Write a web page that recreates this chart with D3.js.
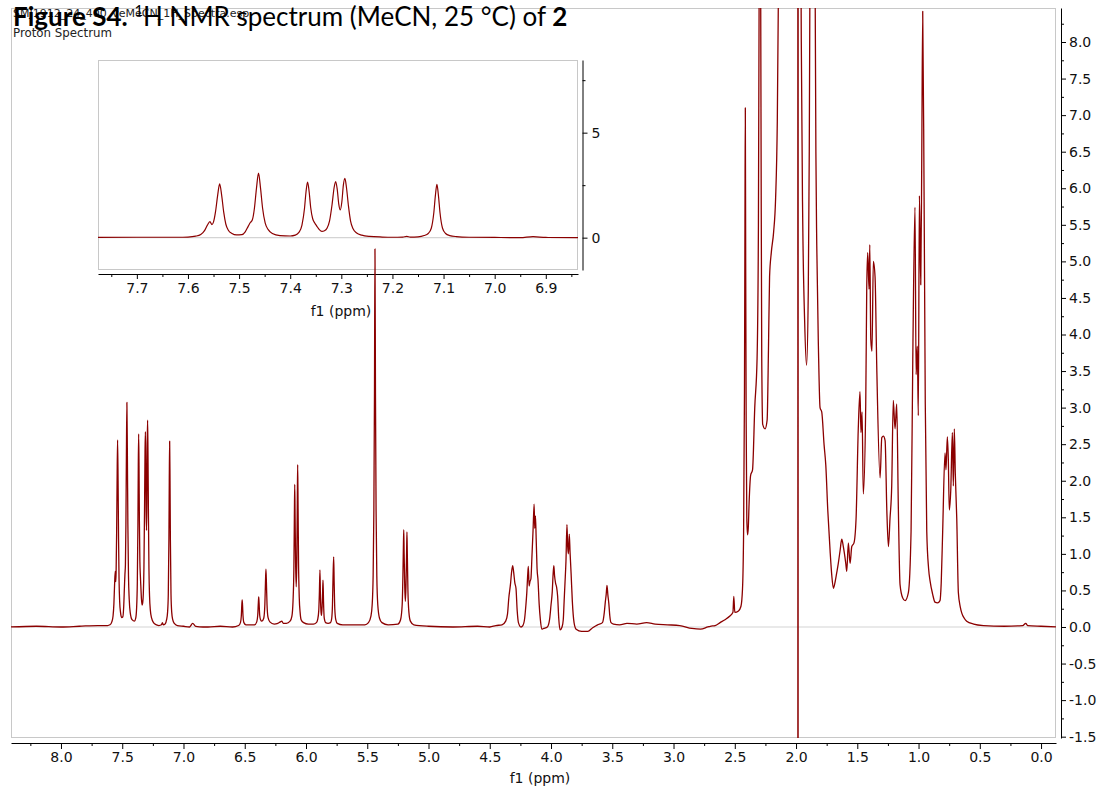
<!DOCTYPE html>
<html><head><meta charset="utf-8">
<script src="https://cdn.jsdelivr.net/npm/d3@7"></script>
<style>body{margin:0;background:#fff} svg{display:block}</style>
</head><body><svg id="c" width="1104" height="790"></svg>
<script>
// ---- DATA: [chemical shift (ppm), intensity] ----
const spectrumAromatic = [
[8.42,0],[8.2,0.01],[8.0,0],[7.85,0.01],[7.70,0.02],[7.62,0.02],[7.60,0.03],[7.585,0.07],[7.575,0.15],[7.568,0.32],[7.562,0.6],[7.557,0.76],[7.553,0.62],[7.550,0.75],[7.546,1.25],[7.542,2.0],[7.538,2.56],[7.534,2.0],[7.530,1.2],[7.526,0.65],[7.521,0.35],[7.514,0.2],[7.505,0.13],[7.495,0.14],[7.488,0.28],[7.482,0.55],[7.478,0.72],[7.474,0.85],[7.470,1.4],[7.466,2.35],[7.462,3.07],[7.458,2.35],[7.454,1.4],[7.449,0.7],[7.443,0.38],[7.435,0.2],[7.42,0.1],[7.40,0.08],[7.39,0.12],[7.383,0.25],[7.377,0.6],[7.372,1.4],[7.369,2.2],[7.366,2.64],[7.363,2.2],[7.360,1.45],[7.356,0.9],[7.352,0.7],[7.348,0.55],[7.343,0.38],[7.338,0.3],[7.333,0.33],[7.328,0.45],[7.323,0.8],[7.318,1.6],[7.314,2.4],[7.311,2.67],[7.308,2.3],[7.305,1.6],[7.302,1.32],[7.299,1.7],[7.296,2.5],[7.293,2.83],[7.290,2.4],[7.286,1.5],[7.282,0.8],[7.277,0.42],[7.270,0.22],[7.26,0.12],[7.245,0.06],[7.22,0.03],[7.20,0.02],[7.18,0.03],[7.172,0.06],[7.165,0.03],[7.15,0.04],[7.138,0.1],[7.13,0.2],[7.124,0.45],[7.119,1.2],[7.116,2.0],[7.113,2.54],[7.110,2.0],[7.107,1.2],[7.102,0.45],[7.096,0.2],[7.088,0.1],[7.075,0.05],[7.05,0.02],[7.0,0.01],[6.95,0.0],[6.925,0.05],[6.90,0.01],[6.84,0.0]
];
const spectrumOlefinic = [
[6.80,0.0],[6.70,0.01],[6.60,0.0],[6.55,0.02],[6.535,0.06],[6.528,0.15],[6.524,0.3],[6.521,0.37],[6.518,0.3],[6.514,0.15],[6.507,0.06],[6.49,0.03],[6.42,0.03],[6.402,0.07],[6.394,0.16],[6.389,0.33],[6.386,0.41],[6.383,0.33],[6.378,0.16],[6.371,0.1],[6.36,0.08],[6.345,0.12],[6.336,0.3],[6.331,0.6],[6.327,0.79],[6.323,0.6],[6.318,0.3],[6.31,0.13],[6.295,0.07],[6.26,0.04],[6.23,0.05],[6.21,0.07],[6.198,0.08],[6.185,0.05],[6.16,0.05],[6.13,0.08],[6.115,0.15],[6.106,0.35],[6.099,0.8],[6.095,1.5],[6.092,1.95],[6.089,1.5],[6.085,0.9],[6.080,0.55],[6.075,0.9],[6.071,1.7],[6.068,2.22],[6.065,1.7],[6.061,0.9],[6.055,0.4],[6.048,0.2],[6.04,0.1],[6.02,0.06],[5.98,0.04],[5.94,0.04],[5.915,0.06],[5.905,0.1],[5.896,0.22],[5.891,0.45],[5.886,0.78],[5.882,0.4],[5.877,0.2],[5.873,0.16],[5.868,0.3],[5.864,0.5],[5.861,0.64],[5.857,0.35],[5.851,0.12],[5.84,0.06],[5.82,0.05],[5.80,0.06],[5.79,0.12],[5.784,0.3],[5.779,0.7],[5.774,0.96],[5.770,0.6],[5.765,0.25],[5.757,0.1],[5.745,0.05],[5.70,0.03],[5.60,0.03],[5.52,0.03],[5.49,0.06],[5.47,0.15],[5.46,0.3],[5.452,0.7],[5.446,1.6],[5.441,3.2],[5.437,5.17],[5.433,3.2],[5.428,1.6],[5.422,0.7],[5.414,0.3],[5.40,0.12],[5.38,0.06],[5.33,0.03],[5.25,0.04],[5.228,0.1],[5.215,0.3],[5.209,0.7],[5.205,1.1],[5.202,1.33],[5.199,1.0],[5.194,0.55],[5.189,0.35],[5.184,0.55],[5.179,1.0],[5.176,1.30],[5.173,1.0],[5.168,0.5],[5.160,0.2],[5.148,0.08],[5.12,0.03],[5.0,0.01],[4.80,0.0],[4.60,0.01],[4.50,0.0]
];
const spectrumMid = [
[4.45,0.02],[4.40,0.03],[4.37,0.08],[4.355,0.18],[4.345,0.39],[4.33,0.6],[4.322,0.75],[4.313,0.84],[4.305,0.75],[4.295,0.6],[4.286,0.53],[4.276,0.22],[4.266,0.06],[4.245,0.0],[4.23,0.02],[4.215,0.12],[4.205,0.3],[4.198,0.46],[4.19,0.72],[4.185,0.83],[4.179,0.56],[4.172,0.62],[4.164,0.66],[4.156,0.95],[4.146,1.35],[4.138,1.68],[4.133,1.35],[4.127,1.52],[4.121,1.2],[4.114,0.8],[4.106,0.64],[4.097,0.32],[4.087,0.1],[4.075,-0.03],[4.06,-0.02],[4.03,0.0],[4.012,0.1],[4.0,0.3],[3.99,0.48],[3.983,0.72],[3.977,0.84],[3.971,0.7],[3.963,0.6],[3.955,0.55],[3.946,0.42],[3.937,0.12],[3.926,-0.04],[3.91,0.0],[3.90,0.1],[3.893,0.35],[3.886,0.6],[3.878,0.9],[3.870,1.4],[3.864,1.1],[3.858,1.0],[3.851,1.27],[3.844,1.0],[3.836,0.73],[3.826,0.35],[3.812,0.06],[3.795,-0.03],[3.75,-0.06],[3.70,-0.06],[3.66,-0.01],[3.62,0.03],[3.58,0.06],[3.565,0.2],[3.557,0.34],[3.550,0.44],[3.543,0.57],[3.536,0.44],[3.528,0.32],[3.52,0.15],[3.51,0.06],[3.49,0.04],[3.44,0.03],[3.38,0.05],[3.30,0.04],[3.22,0.06],[3.15,0.04],[3.05,0.03],[2.95,0.02],[2.85,-0.02],[2.78,-0.03],[2.72,0.0]
];
const spectrumAliphatic = [
[2.70,0.01],[2.66,0.02],[2.62,0.06],[2.58,0.1],[2.54,0.15],[2.515,0.2],[2.508,0.42],[2.50,0.2],[2.47,0.22],[2.45,0.28],[2.437,0.52],[2.428,1.3],[2.421,3.2],[2.417,5.5],[2.414,7.1],[2.411,5.0],[2.407,2.8],[2.402,1.5],[2.396,1.26],[2.39,1.35],[2.383,1.7],[2.371,2.07],[2.355,2.15],[2.337,3.0],[2.318,3.67],[2.307,5.5],[2.300,9.5],[2.294,13],[2.289,9.0],[2.285,6.35],[2.280,3.7],[2.272,2.77],[2.253,2.71],[2.236,2.83],[2.225,3.8],[2.216,4.79],[2.202,5.12],[2.183,5.4],[2.167,5.85],[2.153,6.91],[2.140,9.5],[2.12,14],[2.08,18],[2.04,22],[2.00,30],[1.987,60],[1.984,-30],[1.981,60],[1.965,12],[1.957,8],[1.945,5.5],[1.93,4.2],[1.914,3.58],[1.90,4.6],[1.892,6.5],[1.885,9.5],[1.87,20],[1.855,14],[1.846,9.5],[1.838,6.5],[1.831,5.24],[1.817,3.8],[1.804,3.0],[1.790,2.94],[1.771,2.49],[1.757,2.21],[1.741,1.6],[1.722,1.04],[1.708,0.7],[1.695,0.53],[1.683,0.6],[1.667,0.75],[1.655,0.87],[1.64,1.05],[1.627,1.2],[1.614,1.1],[1.594,0.87],[1.586,0.76],[1.573,1.15],[1.559,0.87],[1.545,1.1],[1.527,1.15],[1.51,1.48],[1.492,2.71],[1.478,3.22],[1.47,2.66],[1.461,2.94],[1.451,1.82],[1.431,3.05],[1.423,4.62],[1.415,5.12],[1.404,4.62],[1.398,5.23],[1.390,3.94],[1.380,3.77],[1.369,5.0],[1.355,4.79],[1.341,3.55],[1.314,2.04],[1.300,2.59],[1.287,2.61],[1.273,2.55],[1.259,1.6],[1.246,1.1],[1.233,1.48],[1.219,1.93],[1.206,3.1],[1.192,2.71],[1.178,3.05],[1.165,1.64],[1.151,0.58],[1.130,0.4],[1.110,0.36],[1.083,0.47],[1.061,1.31],[1.047,3.67],[1.029,5.74],[1.020,3.45],[1.010,3.84],[1.002,2.89],[0.993,5.9],[0.982,4.68],[0.974,6.35],[0.966,8.42],[0.955,5.96],[0.945,3.05],[0.933,1.31],[0.918,0.8],[0.906,0.63],[0.885,0.45],[0.866,0.34],[0.845,0.33],[0.825,0.36],[0.815,0.6],[0.803,1.31],[0.784,2.38],[0.776,2.15],[0.765,2.6],[0.757,2.3],[0.749,1.6],[0.737,1.87],[0.724,2.66],[0.716,1.93],[0.708,2.71],[0.700,2.1],[0.688,1.48],[0.675,0.47],[0.660,0.28],[0.647,0.19],[0.627,0.12],[0.607,0.08],[0.55,0.04],[0.47,0.02],[0.30,0.01],[0.15,0.02],[0.125,0.05],[0.11,0.02],[0.0,0.01],[-0.15,0.0]
];
const mainXTickValues = [8.0,7.5,7.0,6.5,6.0,5.5,5.0,4.5,4.0,3.5,3.0,2.5,2.0,1.5,1.0,0.5,0.0];
const mainYTickValues = [8.0,7.5,7.0,6.5,6.0,5.5,5.0,4.5,4.0,3.5,3.0,2.5,2.0,1.5,1.0,0.5,0.0,-0.5,-1.0,-1.5];
const insetXTickValues = [7.7,7.6,7.5,7.4,7.3,7.2,7.1,7.0,6.9];
const insetYTickValues = [0,5];
// [text, bold, superscript]
const titleParts = [["Figure S4.", true, false], [" ", false, false], ["1", false, true], ["H NMR spectrum (MeCN, 25 \u00B0C) of ", false, false], ["2", true, false]];
const headerLines = ["SMJ1912_24_400_veMeCN_1H_Spectra.esp", "Proton Spectrum"];
const axisLabel = "f1 (ppm)";

// ---- DRAWING ----
const spectrum = [].concat(spectrumAromatic, spectrumOlefinic, spectrumMid, spectrumAliphatic);
const svg = d3.select("#c");
const RED = "#8b0000", FRAME = "#c8c8c8", AXF = "DejaVu Sans, Verdana, sans-serif";
const M = {l: 11, r: 1056, t: 8, b: 738};
const x = d3.scaleLinear().domain([8.408, -0.122]).range([M.l, M.r]);
const y = d3.scaleLinear().domain([-1.518, 8.465]).range([M.b, M.t]);
const I = {l: 98, r: 578, t: 60, b: 270};
const xi = d3.scaleLinear().domain([7.776, 6.837]).range([I.l, I.r]);
const yi = d3.scaleLinear().domain([-1.54, 8.46]).range([I.b, I.t]);

const defs = svg.append("defs");
defs.append("clipPath").attr("id", "cm").append("rect").attr("x", M.l).attr("y", M.t).attr("width", M.r - M.l).attr("height", M.b - M.t);
defs.append("clipPath").attr("id", "ci").append("rect").attr("x", I.l).attr("y", I.t).attr("width", I.r - I.l).attr("height", I.b - I.t);

// main frame
svg.append("rect").attr("x", M.l + 0.5).attr("y", M.t + 0.5).attr("width", M.r - M.l - 1).attr("height", M.b - M.t - 1)
  .attr("fill", "#fff").attr("stroke", FRAME).attr("stroke-width", 1);
svg.append("line").attr("x1", M.l).attr("x2", M.r).attr("y1", y(0)).attr("y2", y(0)).attr("stroke", "#d4d4d4").attr("stroke-width", 1.2);

function minors(vals, step) { return vals.slice(0, -1).map((v, i) => (v + vals[i + 1]) / 2).concat([vals[0] + step / 2 * Math.sign(vals[0] - vals[1]), vals[vals.length - 1] - step / 2 * Math.sign(vals[0] - vals[1])]); }

function styleAxis(g) {
  g.selectAll("path.domain").attr("stroke", "#000").attr("stroke-width", 1);
  g.selectAll(".tick line").attr("stroke", "#000");
  g.selectAll("text").attr("font-family", AXF).attr("font-size", 14).attr("fill", "#111");
}

// main x axis
const gx = svg.append("g").attr("transform", `translate(0,743)`)
  .call(d3.axisBottom(x).tickValues(mainXTickValues).tickSize(6).tickSizeOuter(0).tickPadding(3).tickFormat(d => d.toFixed(1)));
styleAxis(gx);
svg.append("g").attr("transform", `translate(0,743)`)
  .call(d3.axisBottom(x).tickValues(minors(mainXTickValues, 0.5).filter(v => v < 8.408 && v > -0.122)).tickSize(3).tickSizeOuter(0).tickFormat(""))
  .call(g => g.select("path.domain").remove()).selectAll("line").attr("stroke", "#000");
svg.append("text").attr("x", 540).attr("y", 783).attr("text-anchor", "middle").attr("font-family", AXF).attr("font-size", 14).attr("fill", "#111").text(axisLabel);

// main y axis
const gy = svg.append("g").attr("transform", `translate(1061,0)`)
  .call(d3.axisRight(y).tickValues(mainYTickValues).tickSize(5).tickSizeOuter(0).tickPadding(3).tickFormat(d => d.toFixed(1)));
styleAxis(gy);
svg.append("g").attr("transform", `translate(1061,0)`)
  .call(d3.axisRight(y).tickValues(minors(mainYTickValues, 0.5).filter(v => v < 8.465 && v > -1.518)).tickSize(3).tickSizeOuter(0).tickFormat(""))
  .call(g => g.select("path.domain").remove()).selectAll("line").attr("stroke", "#000");

// inset
svg.append("rect").attr("x", I.l + 0.5).attr("y", I.t + 0.5).attr("width", I.r - I.l - 1).attr("height", I.b - I.t - 1)
  .attr("fill", "#fff").attr("stroke", FRAME).attr("stroke-width", 1);
svg.append("line").attr("x1", I.l).attr("x2", I.r).attr("y1", yi(0)).attr("y2", yi(0)).attr("stroke", "#d4d4d4").attr("stroke-width", 1.2);
const gxi = svg.append("g").attr("transform", `translate(0,274)`)
  .call(d3.axisBottom(xi).tickValues(insetXTickValues).tickSize(5).tickSizeOuter(0).tickPadding(4).tickFormat(d => d.toFixed(1)));
styleAxis(gxi);
svg.append("g").attr("transform", `translate(0,274)`)
  .call(d3.axisBottom(xi).tickValues(minors(insetXTickValues, 0.1).filter(v => v < 7.776 && v > 6.837)).tickSize(3).tickSizeOuter(0).tickFormat(""))
  .call(g => g.select("path.domain").remove()).selectAll("line").attr("stroke", "#000");
svg.append("text").attr("x", 341).attr("y", 316).attr("text-anchor", "middle").attr("font-family", AXF).attr("font-size", 14).attr("fill", "#111").text(axisLabel);
const gyi = svg.append("g").attr("transform", `translate(582.5,0)`)
  .call(d3.axisRight(yi).tickValues(insetYTickValues).tickSize(5).tickSizeOuter(0).tickPadding(4).tickFormat(d3.format("d")));
styleAxis(gyi);
svg.append("g").attr("transform", `translate(582.5,0)`)
  .call(d3.axisRight(yi).tickValues([2.5, 7.5]).tickSize(3).tickSizeOuter(0).tickFormat(""))
  .call(g => g.select("path.domain").remove()).selectAll("line").attr("stroke", "#000");

const lineI = d3.line().x(d => xi(d[0])).y(d => yi(d[1])).curve(d3.curveMonotoneX);
svg.append("path").attr("clip-path", "url(#ci)").attr("d", lineI(spectrum))
  .attr("fill", "none").attr("stroke", RED).attr("stroke-width", 1.2).attr("stroke-linejoin", "round");

// main spectrum
const lineM = d3.line().x(d => x(d[0])).y(d => y(d[1])).curve(d3.curveMonotoneX);
svg.append("path").attr("clip-path", "url(#cm)").attr("d", lineM(spectrum))
  .attr("fill", "none").attr("stroke", RED).attr("stroke-width", 1.3).attr("stroke-linejoin", "round");

// header texts
svg.append("text").attr("x", 13).attr("y", 17).attr("font-family", AXF).attr("font-size", 11).attr("fill", "#222").text(headerLines[0]);
svg.append("text").attr("x", 13).attr("y", 37).attr("font-family", AXF).attr("font-size", 11.8).attr("fill", "#222").text(headerLines[1]);
const t = svg.append("text").attr("x", 13).attr("y", 26).attr("font-family", "Lato, 'Open Sans', sans-serif").attr("font-size", 26).attr("fill", "#000");
titleParts.forEach(([s, b, sup], i) => {
  const ts = t.append("tspan").attr("font-weight", b ? "bold" : "normal").text(s);
  if (sup) ts.attr("font-size", 15).attr("dy", -10);
  else if (i > 0 && titleParts[i - 1][2]) ts.attr("dy", 10);
});
</script></body></html>
